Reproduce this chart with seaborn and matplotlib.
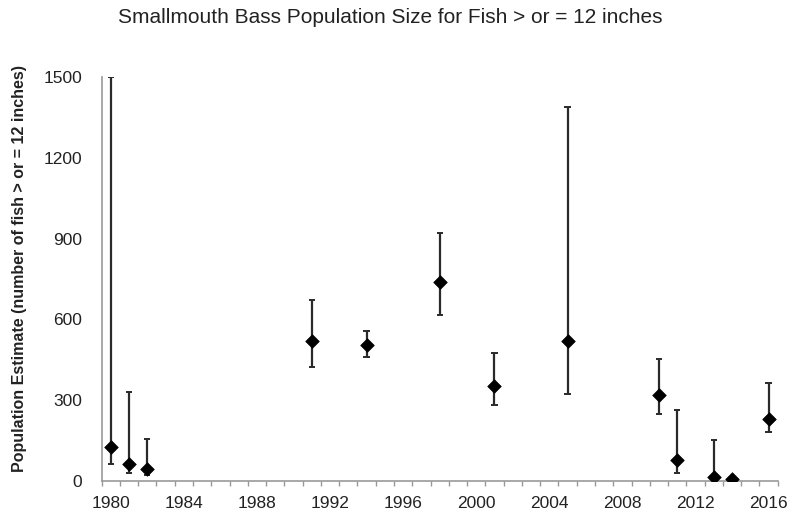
import matplotlib
matplotlib.use("Agg")
import matplotlib.pyplot as plt
import seaborn as sns
import pandas as pd
import numpy as np
from matplotlib.ticker import FixedLocator

years = [1980, 1981, 1982, 1991, 1994, 1998, 2001, 2005, 2010, 2011, 2013, 2014, 2016]
estimate = [126, 61, 42, 521, 503, 739, 352, 520, 319, 77, 15, 5, 229]
upper = [1500, 330, 154, 672, 556, 922, 474, 1389, 453, 263, 151, 5, 364]
lower = [61, 30, 21, 424, 460, 615, 282, 322, 248, 27, 0, 5, 180]

x_labels = [1980, 1984, 1988, 1992, 1996, 2000, 2004, 2008, 2012, 2016]
y_ticks = [0, 300, 600, 900, 1200, 1500]

df = pd.DataFrame({"year": years, "est": estimate, "lo": lower, "hi": upper})

sns.set_style("white")
plt.rcParams['font.family'] = ['Liberation Sans', 'DejaVu Sans']

fig = plt.figure(figsize=(7.9, 5.14), dpi=100)
ax = fig.add_axes([0.1287, 0.0648, 0.9844 - 0.1287, 0.8496 - 0.0648])

ax.vlines(df["year"], df["lo"], df["hi"], color="#2a2a2a", linewidth=1.6, zorder=2)
cap = 0.17
ax.hlines(df["hi"], df["year"] - cap, df["year"] + cap, color="#2a2a2a", linewidth=1.4, zorder=2)
ax.hlines(df["lo"], df["year"] - cap, df["year"] + cap, color="#2a2a2a", linewidth=1.4, zorder=2)
sns.scatterplot(data=df, x="year", y="est", marker="D", s=48, color="black",
                edgecolor="black", linewidth=0.5, ax=ax, zorder=3, legend=False)

ax.set_xlim(1979.5, 2016.5)
ax.set_ylim(0, 1500)
ax.xaxis.set_major_locator(FixedLocator(x_labels))
ax.xaxis.set_minor_locator(FixedLocator(np.arange(1979.5, 2017, 1.0)))
ax.set_yticks(y_ticks)
ax.tick_params(axis="x", which="major", length=0, labelsize=12.5, pad=11, labelcolor="#222222")
ax.tick_params(axis="x", which="minor", length=3.6, width=1, color="#999999", direction="out",
               bottom=True)
ax.tick_params(axis="y", which="major", length=3.6, width=1, color="#999999", direction="out",
               labelsize=12.5, pad=10.5, labelcolor="#222222")

for s in ["top", "right"]:
    ax.spines[s].set_visible(False)
for s in ["left", "bottom"]:
    ax.spines[s].set_color("#999999")
    ax.spines[s].set_linewidth(1.2)

ax.set_xlabel("")
ax.set_ylabel("Population Estimate (number of fish > or = 12 inches)", fontsize=11.5,
              fontweight="bold", color="#222222")
ax.yaxis.set_label_coords(-0.111, 0.525)
fig.text(0.494, 0.965, "Smallmouth Bass Population Size for Fish > or = 12 inches",
         ha="center", va="center", fontsize=15, color="#222222")

fig.savefig("out.png", dpi=100)
